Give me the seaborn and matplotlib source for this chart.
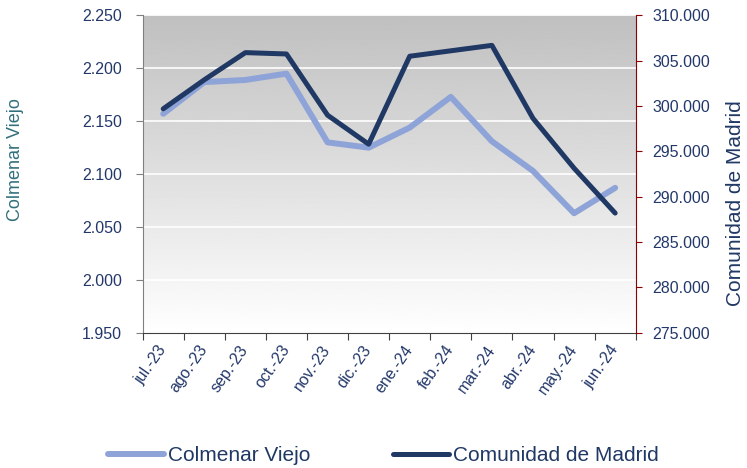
import numpy as np
import pandas as pd
import matplotlib
matplotlib.use('Agg')
import matplotlib.pyplot as plt
import seaborn as sns
from matplotlib.ticker import FuncFormatter, FixedLocator
from matplotlib.lines import Line2D

# Data
months = ['jul.-23', 'ago.-23', 'sep.-23', 'oct.-23', 'nov.-23', 'dic.-23',
          'ene.-24', 'feb.-24', 'mar.-24', 'abr.-24', 'may.-24', 'jun.-24']
colmenar = [2157, 2187, 2189, 2195, 2130, 2125, 2144, 2173, 2131, 2103, 2063, 2087]
comunidad = [299700, 302900, 305900, 305750, 299000, 295800,
             305500, 306100, 306700, 298650, 293150, 288200]

df = pd.DataFrame({'mes': months, 'pos': range(len(months)),
                   'colmenar': colmenar, 'comunidad': comunidad})

navy = '#203864'
light = '#8EA3D7'
text_col = '#23386A'

plt.rcParams['font.family'] = ['Liberation Sans', 'DejaVu Sans']

fig = plt.figure(figsize=(7.47, 4.68), dpi=100)
ax = fig.add_axes([0.191, 0.289, 0.66, 0.678])
ax2 = ax.twinx()

# Gradient background (gray at top, white at bottom)
grad = np.linspace(0.75, 1.0, 256).reshape(-1, 1)
ax.imshow(grad, cmap='gray', vmin=0, vmax=1, aspect='auto', origin='upper',
          extent=[-0.5, 11.5, 1950, 2250], zorder=0)

sns.lineplot(data=df, x='pos', y='colmenar', ax=ax, color=light, linewidth=4.3,
             sort=False, solid_capstyle='round', zorder=3)
sns.lineplot(data=df, x='pos', y='comunidad', ax=ax2, color=navy, linewidth=3.6,
             sort=False, solid_capstyle='round', zorder=3)

fmt = FuncFormatter(lambda v, _: f"{v:,.0f}".replace(',', '.'))

ax.set_xlim(-0.5, 11.5)
ax.set_ylim(1950, 2250)
ax.set_yticks(np.arange(1950, 2251, 50))
ax.yaxis.set_major_formatter(fmt)
ax2.set_ylim(275000, 310000)
ax2.set_yticks(np.arange(275000, 310001, 5000))
ax2.yaxis.set_major_formatter(fmt)

# x ticks at category boundaries, labels at centers
ax.xaxis.set_major_locator(FixedLocator(np.arange(-0.5, 12, 1)))
ax.xaxis.set_major_formatter(FuncFormatter(lambda v, _: ''))
ax.xaxis.set_minor_locator(FixedLocator(df['pos']))
ax.set_xticklabels(months, minor=True, rotation=55, ha='right',
                   va='center', rotation_mode='anchor', fontsize=11.5, color=text_col)
ax.tick_params(axis='x', which='minor', length=0, pad=10)
ax.tick_params(axis='x', which='major', length=5, color='#404040', direction='out')
ax.tick_params(axis='y', length=5, color='#808080', labelsize=11.5,
               labelcolor=text_col, pad=10)
ax2.tick_params(axis='y', length=4, color='#8B0000', labelsize=11.5,
                labelcolor=text_col, pad=8)

ax.grid(axis='y', color='white', linewidth=1.2)
ax.grid(axis='x', visible=False)
ax.set_xlabel('')
ax.set_ylabel('')
ax2.set_ylabel('')

for a in (ax, ax2):
    a.spines['top'].set_visible(False)
ax.spines['left'].set_color('#808080')
ax.spines['bottom'].set_color('#404040')
ax.spines['right'].set_visible(False)
ax2.spines['left'].set_visible(False)
ax2.spines['bottom'].set_visible(False)
ax2.spines['right'].set_color('#8B0000')

fig.text(0.021, 0.658, 'Colmenar Viejo', rotation=90, ha='center', va='center',
         fontsize=13, color='#31707A')
fig.text(0.984, 0.566, 'Comunidad de Madrid', rotation=90, ha='center', va='center',
         fontsize=15, color=navy)

handles = [Line2D([], [], color=light, linewidth=4.3, solid_capstyle='round'),
           Line2D([], [], color=navy, linewidth=3.6, solid_capstyle='round')]
fig.legend(handles, ['Colmenar Viejo', 'Comunidad de Madrid'], loc='center left',
           bbox_to_anchor=(0.145, 0.026), ncol=2, frameon=False, fontsize=15,
           handlelength=2.65, handletextpad=0.2, columnspacing=4.0,
           borderpad=0, borderaxespad=0, labelcolor=navy)

fig.savefig('out.png', dpi=100)
